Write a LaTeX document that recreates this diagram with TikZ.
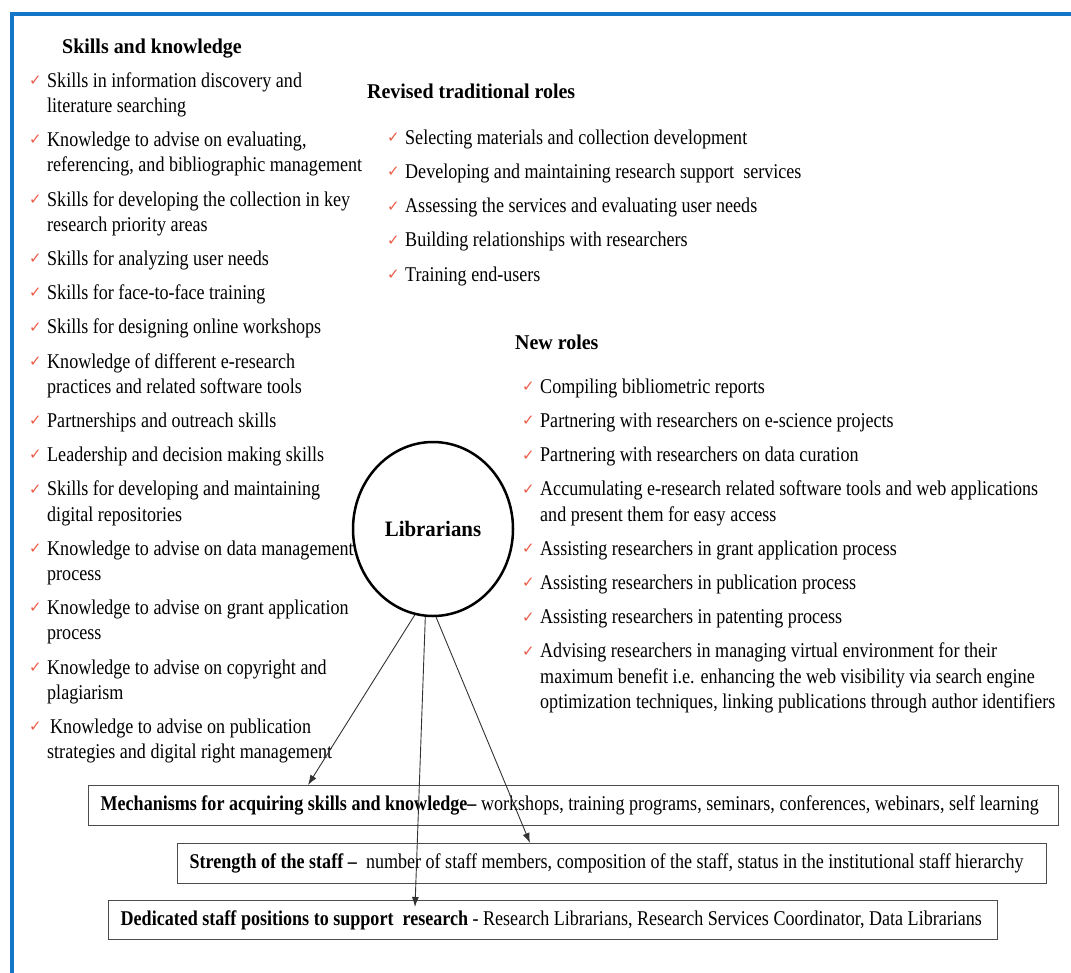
\documentclass[tikz,border=0pt]{standalone}
\usepackage{fontspec}
\setmainfont{Liberation Serif}[FakeStretch=0.86]
\newfontfamily\headfont{Liberation Serif}[FakeStretch=0.95]
\newfontfamily\tickfont{DejaVu Sans}
\usetikzlibrary{positioning, arrows.meta, shapes.geometric}
\definecolor{frame_blue}{RGB}{20,118,200}
\definecolor{tick_red}{RGB}{236,92,72}

\begin{document}
\begin{tikzpicture}
    [
        x=1pt, y=-1pt, node distance=8.6pt and 0pt,
        tick_mark/.style={font=\tickfont\fontsize{15}{15}\selectfont, text=tick_red, inner sep=0pt, anchor=north east, xshift=-5pt, yshift=-6.5pt},
        item_text/.style={anchor=north west, inner sep=0pt, text width=#1, align=left, font=\fontsize{21}{25.2}\selectfont, execute at begin node={\spaceskip=0pt\xspaceskip=0pt\strut}, execute at end node=\strut, label={[tick_mark]north west:✓}},
        item_text/.default=330pt,
        head_text/.style={anchor=base west, inner sep=0pt, font=\headfont\bfseries\fontsize{21}{25}\selectfont},
        hub_node/.style={ellipse, draw=black, line width=2.5pt, minimum width=160pt, minimum height=174pt, font=\headfont\bfseries\fontsize{22}{26}\selectfont},
        box_node/.style={draw=black!70, line width=1.3pt, anchor=north west, minimum height=40pt, inner xsep=12pt, inner ysep=0pt, align=left, font=\fontsize{21}{24}\selectfont, execute at begin node={\spaceskip=0pt\xspaceskip=0pt}},
        link_arrow/.style={-{Latex[length=10pt, width=7pt]}, line width=0.9pt, draw=black!80},
    ]
        \useasboundingbox (0,0) rectangle (1071,972);
        \begin{scope}
            \clip (0,0) rectangle (1071,972);
            \draw[frame_blue, line width=4pt] (11.5,14) rectangle (1100,1000);
        \end{scope}

        % skills and knowledge
        \node[head_text] (skills) at (62,53) {Skills and knowledge};
        \node[item_text] (sk1) at (47,69.4) {Skills in information discovery and\\literature searching};
        \node[item_text] (sk2) [below right=of sk1.south west] {Knowledge to advise on evaluating,\\referencing, and bibliographic management};
        \node[item_text] (sk3) [below right=of sk2.south west] {Skills for developing the collection in key\\research priority areas};
        \node[item_text] (sk4) [below right=of sk3.south west] {Skills for analyzing user needs};
        \node[item_text] (sk5) [below right=of sk4.south west] {Skills for face-to-face training};
        \node[item_text] (sk6) [below right=of sk5.south west] {Skills for designing online workshops};
        \node[item_text] (sk7) [below right=of sk6.south west] {Knowledge of different e-research\\practices and related software tools};
        \node[item_text] (sk8) [below right=of sk7.south west] {Partnerships and outreach skills};
        \node[item_text] (sk9) [below right=of sk8.south west] {Leadership and decision making skills};
        \node[item_text] (sk10) [below right=of sk9.south west] {Skills for developing and maintaining\\digital repositories};
        \node[item_text] (sk11) [below right=of sk10.south west] {Knowledge to advise on data management\\process};
        \node[item_text] (sk12) [below right=of sk11.south west] {Knowledge to advise on grant application\\process};
        \node[item_text] (sk13) [below right=of sk12.south west] {Knowledge to advise on copyright and\\plagiarism};
        \node[item_text] (sk14) [below right=of sk13.south west] {\hspace*{3pt}Knowledge to advise on publication\\strategies and digital right management};

        % revised traditional roles
        \node[head_text] (revised) at (367,98) {Revised traditional roles};
        \node[item_text=560pt] (rv1) at (405,126.5) {Selecting materials and collection development};
        \node[item_text=560pt] (rv2) [below right=of rv1.south west] {Developing and maintaining research support\ \ services};
        \node[item_text=560pt] (rv3) [below right=of rv2.south west] {Assessing the services and evaluating user needs};
        \node[item_text=560pt] (rv4) [below right=of rv3.south west] {Building relationships with researchers};
        \node[item_text=560pt] (rv5) [below right=of rv4.south west] {Training end-users};

        % new roles
        \node[head_text] (newroles) at (515,349) {New roles};
        \node[item_text=540pt] (nr1) at (540,375.5) {Compiling bibliometric reports};
        \node[item_text=540pt] (nr2) [below right=of nr1.south west] {Partnering with researchers on e-science projects};
        \node[item_text=540pt] (nr3) [below right=of nr2.south west] {Partnering with researchers on data curation};
        \node[item_text=540pt] (nr4) [below right=of nr3.south west] {Accumulating e-research related software tools and web applications\\and present them for easy access};
        \node[item_text=540pt] (nr5) [below right=of nr4.south west] {Assisting researchers in grant application process};
        \node[item_text=540pt] (nr6) [below right=of nr5.south west] {Assisting researchers in publication process};
        \node[item_text=540pt] (nr7) [below right=of nr6.south west] {Assisting researchers in patenting process};
        \node[item_text=540pt] (nr8) [below right=of nr7.south west] {Advising researchers in managing virtual environment for their\\maximum benefit i.e. enhancing the web visibility via search engine\\optimization techniques, linking publications through author identifiers};

        \node[hub_node] (librarians) at (433,529) {Librarians};

        % bottom boxes
        \node[box_node, text width=946pt] (mechanisms) at (88,785) {\mbox{\textbf{Mechanisms for acquiring skills and knowledge–} workshops, training programs, seminars, conferences, webinars, self learning}};
        \node[box_node, text width=845pt] (strength) at (177,843) {\mbox{\textbf{Strength of the staff –}\ \ number of staff members, composition of the staff, status in the institutional staff hierarchy}};
        \node[box_node, text width=865pt, minimum height=39pt] (dedicated) at (108,900) {\mbox{\textbf{Dedicated staff positions to support\ \ research} - Research Librarians, Research Services Coordinator, Data Librarians}};

        \draw[link_arrow] (librarians.-102.8) -- ([xshift=220pt]mechanisms.north west);
        \draw[link_arrow] (librarians.-95.8) -- ([xshift=307pt, yshift=-7pt]dedicated.north west);
        \draw[link_arrow] (librarians.-88) -- ([xshift=353pt]strength.north west);
    \end{tikzpicture}
\end{document}
